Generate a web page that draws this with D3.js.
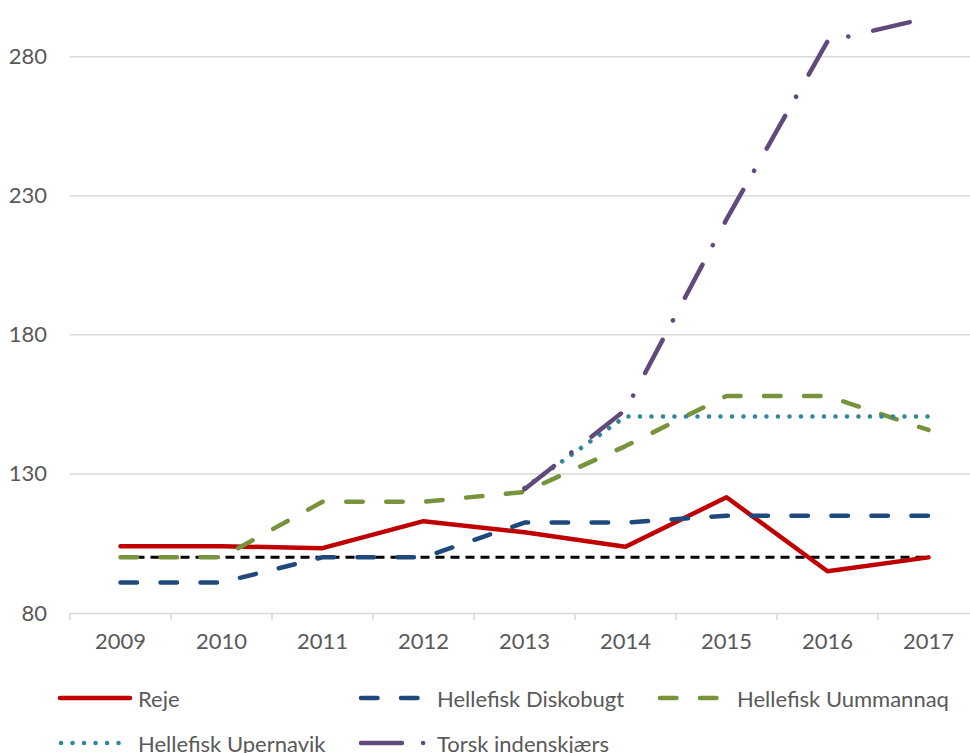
<!DOCTYPE html>
<html>
<head>
<meta charset="utf-8">
<script src="https://cdn.jsdelivr.net/npm/d3@7"></script>
<style>
  html, body { margin: 0; padding: 0; background: #fff; }
  svg { display: block; }
  text { font-family: Lato, "Open Sans", sans-serif; fill: #595959; }
</style>
</head>
<body>
<svg id="chart" width="970" height="753"></svg>
<script>
const years = ["2009","2010","2011","2012","2013","2014","2015","2016","2017"];
const yTicks = [80, 130, 180, 230, 280];

const reje        = [104, 104, 103.3, 113, 109, 103.8, 121.6, 95, 100];
const diskobugt   = [91, 91, 100, 100, 112.5, 112.5, 115, 115, 115];
const uummannaq   = [100, 100, 120, 120, 123.5, 140, 158, 158, 145.8];
const upernavik   = [null, null, null, null, 125, 150.6, 150.6, 150.6, 150.6];
const torsk       = [null, null, null, null, 124.5, 153, 221.5, 285.5, 294];
const reference   = [100, 100, 100, 100, 100, 100, 100, 100, 100];

const seriesNames = ["Reje", "Hellefisk Diskobugt", "Hellefisk Uummannaq", "Hellefisk Upernavik", "Torsk indenskjærs"];

const FS = 22;
const svg = d3.select("#chart");
const x = d3.scaleBand().domain(years).range([70, 979]);
const y = d3.scaleLinear().domain([80, 300]).range([613, 1]);

// gridlines
svg.append("g").selectAll("line").data(yTicks.slice(1)).join("line")
  .attr("x1", 70).attr("x2", 979)
  .attr("y1", d => y(d)).attr("y2", d => y(d))
  .attr("stroke", "#d9d9d9").attr("stroke-width", 1.5);

// y axis labels
const yAxis = d3.axisLeft(y).tickValues(yTicks).tickSize(0).tickPadding(0).tickFormat(d3.format("d"));
const yg = svg.append("g").attr("transform", "translate(47,0)").call(yAxis);
yg.select(".domain").remove();
yg.selectAll("text").attr("font-size", FS).attr("font-family", "Lato, sans-serif").attr("fill", "#595959");

// x axis
const xg = svg.append("g").attr("transform", `translate(0,${y(80)})`)
  .call(d3.axisBottom(x).tickSize(0).tickPadding(20));
xg.select(".domain").attr("stroke", "#d9d9d9").attr("stroke-width", 1.5);
xg.selectAll("text").attr("font-size", FS).attr("font-family", "Lato, sans-serif").attr("fill", "#595959");
// tick marks at category boundaries
const bounds = years.map(d => x(d)).concat([x(years[years.length-1]) + x.bandwidth()]);
xg.append("g").selectAll("line").data(bounds).join("line")
  .attr("x1", d => d).attr("x2", d => d).attr("y1", 0).attr("y2", 7)
  .attr("stroke", "#d9d9d9").attr("stroke-width", 1.5);

const cx = d => x(d) + x.bandwidth() / 2;
const line = d3.line().defined(d => d[1] != null).x(d => cx(d[0])).y(d => y(d[1]));
const pts = arr => years.map((yr, i) => [yr, arr[i]]);

const styles = [
  { data: reference, color: "#000000", width: 3, dash: "9,6", cap: "butt" },
  { data: reje, color: "#c00000", width: 4.5, dash: null, cap: "round" },
  { data: diskobugt, color: "#1f497d", width: 4.5, dash: "16.5,23.5", cap: "round" },
  { data: uummannaq, color: "#77933c", width: 4.5, dash: "16.5,23.5", cap: "round" },
  { data: upernavik, color: "#31859c", width: 4.5, dash: "0.1,11.4", cap: "round" },
  { data: torsk, color: "#604a7b", width: 4.5, dash: "37.5,22,0.1,25.5", cap: "round" }
];

styles.forEach(s => {
  svg.append("path")
    .attr("d", line(pts(s.data)))
    .attr("fill", "none")
    .attr("stroke", s.color)
    .attr("stroke-width", s.width)
    .attr("stroke-linecap", s.cap)
    .attr("stroke-linejoin", "round")
    .attr("stroke-dasharray", s.dash);
});

// legend
const legendItems = [
  { name: seriesNames[0], st: styles[1], lx: 60, ly: 698, len: 70, tx: 138, dash: null },
  { name: seriesNames[1], st: styles[2], lx: 361, ly: 698, len: 62, tx: 437, dash: "16.5,23.5" },
  { name: seriesNames[2], st: styles[3], lx: 660, ly: 698, len: 62, tx: 737, dash: "16.5,23.5" },
  { name: seriesNames[3], st: styles[4], lx: 61, ly: 743, len: 62, tx: 138, dash: "0.1,11.4" },
  { name: seriesNames[4], st: styles[5], lx: 361, ly: 743, len: 65, tx: 437, dash: "41,21,0.1,30" }
];
const lg = svg.append("g");
legendItems.forEach(it => {
  lg.append("line")
    .attr("x1", it.lx).attr("x2", it.lx + it.len)
    .attr("y1", it.ly).attr("y2", it.ly)
    .attr("stroke", it.st.color).attr("stroke-width", it.st.width)
    .attr("stroke-linecap", it.st.cap)
    .attr("stroke-dasharray", it.dash);
  lg.append("text").attr("x", it.tx).attr("y", it.ly)
    .attr("dominant-baseline", "central")
    .attr("font-size", FS).text(it.name);
});
</script>
</body>
</html>
